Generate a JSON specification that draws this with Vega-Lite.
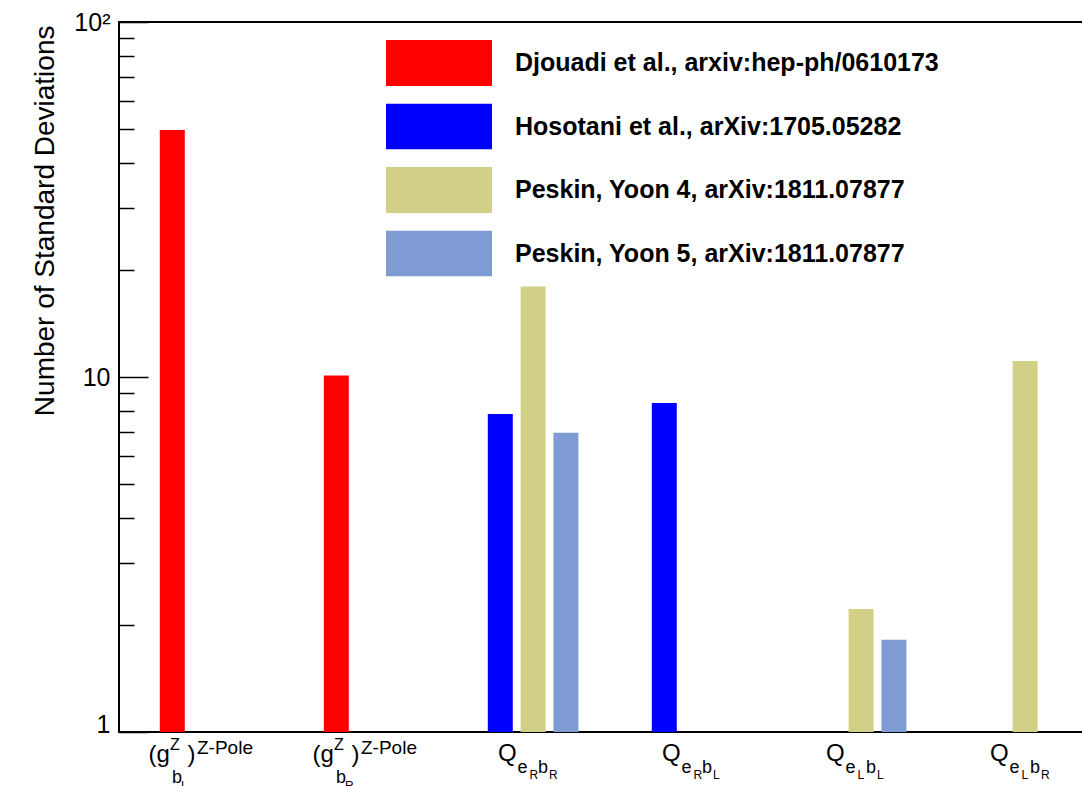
{
  "$schema": "https://vega.github.io/schema/vega-lite/v6.json",
  "width": 964,
  "height": 710,
  "autosize": {"type": "none"},
  "padding": {"left": 119, "top": 22, "right": 0, "bottom": 54},
  "background": "white",
  "config": {
    "view": {"stroke": "black", "strokeWidth": 2},
    "font": "Liberation Sans",
    "text": {"font": "Liberation Sans", "color": "black"}
  },
  "datasets": {
    "bars": [
      {"cat": "c1", "series": "Djouadi et al., arxiv:hep-ph/0610173", "value": 49.6},
      {"cat": "c2", "series": "Djouadi et al., arxiv:hep-ph/0610173", "value": 10.1},
      {"cat": "c3", "series": "Hosotani et al., arXiv:1705.05282", "value": 7.87},
      {"cat": "c3", "series": "Peskin, Yoon 4, arXiv:1811.07877", "value": 18.0},
      {"cat": "c3", "series": "Peskin, Yoon 5, arXiv:1811.07877", "value": 6.96},
      {"cat": "c4", "series": "Hosotani et al., arXiv:1705.05282", "value": 8.45},
      {"cat": "c5", "series": "Peskin, Yoon 4, arXiv:1811.07877", "value": 2.22},
      {"cat": "c5", "series": "Peskin, Yoon 5, arXiv:1811.07877", "value": 1.82},
      {"cat": "c6", "series": "Peskin, Yoon 4, arXiv:1811.07877", "value": 11.1}
    ],
    "labels": [
      {"cat": "c1", "kind": "g", "s1": "L", "s2": ""},
      {"cat": "c2", "kind": "g", "s1": "R", "s2": ""},
      {"cat": "c3", "kind": "Q", "s1": "R", "s2": "R"},
      {"cat": "c4", "kind": "Q", "s1": "R", "s2": "L"},
      {"cat": "c5", "kind": "Q", "s1": "L", "s2": "L"},
      {"cat": "c6", "kind": "Q", "s1": "L", "s2": "R"}
    ]
  },
  "layer": [
    {
      "data": {"name": "bars"},
      "transform": [{"filter": "datum.series == 'Djouadi et al., arxiv:hep-ph/0610173' || datum.series == 'Hosotani et al., arXiv:1705.05282'"}],
      "mark": {"type": "bar", "width": 25, "xOffset": -28.7},
      "encoding": {
        "x": {"field": "cat", "type": "nominal", "scale": {"domain": ["c1", "c2", "c3", "c4", "c5", "c6"], "range": [0, 984], "paddingInner": 0, "paddingOuter": 0}, "axis": null},
        "y": {
          "field": "value", "type": "quantitative",
          "scale": {"type": "log", "domain": [1, 100]},
          "axis": {
            "orient": "left",
            "values": [1, 10, 100],
            "domain": false, "grid": false,
            "tickSize": -29, "tickColor": "black", "tickWidth": 1.5,
            "labelPadding": 38, "labelFont": "Liberation Sans", "labelFontSize": 25, "labelColor": "black",
            "labelAlign": "right", "labelFlush": false, "labelOverlap": false,
            "labelExpr": "datum.value == 100 ? '10²' : (datum.value == 10 ? '10' : '1')",
            "labelBaseline": {"condition": {"test": "datum.value == 1", "value": "alphabetic"}, "value": "middle"},
            "title": "Number of Standard Deviations",
            "titleFont": "Liberation Sans", "titleFontSize": 28, "titleFontWeight": "normal", "titleColor": "black",
            "titleAngle": -90, "titleAlign": "right", "titleBaseline": "alphabetic",
            "titleX": -66, "titleY": 3
          }
        },
        "y2": {"datum": 1},
        "color": {
          "field": "series", "type": "nominal",
          "scale": {
            "domain": ["Djouadi et al., arxiv:hep-ph/0610173", "Hosotani et al., arXiv:1705.05282", "Peskin, Yoon 4, arXiv:1811.07877", "Peskin, Yoon 5, arXiv:1811.07877"],
            "range": ["#ff0000", "#0000ff", "#d2cf87", "#7e9bd3"]
          },
          "legend": {
            "orient": "none", "legendX": 267, "legendY": 18, "title": null,
            "direction": "vertical",
            "symbolType": "M-1,-0.434H1V0.434H-1Z", "symbolSize": 11236, "clipHeight": 46,
            "symbolStrokeWidth": 0, "symbolOpacity": 1,
            "rowPadding": 17.5, "labelOffset": 23, "padding": 0,
            "labelFont": "Liberation Sans", "labelFontSize": 25, "labelFontWeight": "bold", "labelColor": "black", "labelLimit": 1000
          }
        }
      }
    },
    {
      "data": {"name": "bars"},
      "transform": [{"filter": "datum.series == 'Peskin, Yoon 4, arXiv:1811.07877'"}],
      "mark": {"type": "bar", "width": 25, "xOffset": 4.1},
      "encoding": {
        "x": {"field": "cat", "type": "nominal", "scale": {"domain": ["c1", "c2", "c3", "c4", "c5", "c6"], "range": [0, 984], "paddingInner": 0, "paddingOuter": 0}, "axis": null},
        "y": {"field": "value", "type": "quantitative", "scale": {"type": "log", "domain": [1, 100]}, "axis": null},
        "y2": {"datum": 1},
        "color": {"field": "series", "type": "nominal"}
      }
    },
    {
      "data": {"name": "bars"},
      "transform": [{"filter": "datum.series == 'Peskin, Yoon 5, arXiv:1811.07877'"}],
      "mark": {"type": "bar", "width": 25, "xOffset": 36.9},
      "encoding": {
        "x": {"field": "cat", "type": "nominal", "scale": {"domain": ["c1", "c2", "c3", "c4", "c5", "c6"], "range": [0, 984], "paddingInner": 0, "paddingOuter": 0}, "axis": null},
        "y": {"field": "value", "type": "quantitative", "scale": {"type": "log", "domain": [1, 100]}, "axis": null},
        "y2": {"datum": 1},
        "color": {"field": "series", "type": "nominal"}
      }
    },
    {
      "data": {"name": "bars"},
      "mark": {"type": "tick", "opacity": 0},
      "encoding": {
        "y": {
          "field": "value", "type": "quantitative",
          "scale": {"type": "log", "domain": [1, 100]},
          "axis": {
            "orient": "left",
            "values": [2, 3, 4, 5, 6, 7, 8, 9, 20, 30, 40, 50, 60, 70, 80, 90],
            "labels": false, "domain": false, "grid": false, "title": null,
            "tickSize": -15, "tickColor": "black", "tickWidth": 1.5
          }
        }
      }
    },
    {
      "data": {"name": "labels"},
      "transform": [{"filter": "datum.kind == 'g'"}],
      "mark": {"type": "text", "text": "(g", "align": "left", "baseline": "alphabetic", "dx": -52.5, "dy": 30, "fontSize": 24},
      "encoding": {
        "x": {"field": "cat", "type": "nominal", "scale": {"domain": ["c1", "c2", "c3", "c4", "c5", "c6"], "range": [0, 984], "paddingInner": 0, "paddingOuter": 0}, "axis": null},
        "y": {"datum": 1, "type": "quantitative", "scale": {"type": "log", "domain": [1, 100]}, "axis": null}
      }
    },
    {
      "data": {"name": "labels"},
      "transform": [{"filter": "datum.kind == 'g'"}],
      "mark": {"type": "text", "text": "Z", "align": "left", "baseline": "alphabetic", "dx": -31, "dy": 18, "fontSize": 16},
      "encoding": {
        "x": {"field": "cat", "type": "nominal", "scale": {"domain": ["c1", "c2", "c3", "c4", "c5", "c6"], "range": [0, 984], "paddingInner": 0, "paddingOuter": 0}, "axis": null},
        "y": {"datum": 1, "type": "quantitative", "scale": {"type": "log", "domain": [1, 100]}, "axis": null}
      }
    },
    {
      "data": {"name": "labels"},
      "transform": [{"filter": "datum.kind == 'g'"}],
      "mark": {"type": "text", "text": "b", "align": "left", "baseline": "alphabetic", "dx": -29, "dy": 51, "fontSize": 18},
      "encoding": {
        "x": {"field": "cat", "type": "nominal", "scale": {"domain": ["c1", "c2", "c3", "c4", "c5", "c6"], "range": [0, 984], "paddingInner": 0, "paddingOuter": 0}, "axis": null},
        "y": {"datum": 1, "type": "quantitative", "scale": {"type": "log", "domain": [1, 100]}, "axis": null}
      }
    },
    {
      "data": {"name": "labels"},
      "transform": [{"filter": "datum.kind == 'g'"}],
      "mark": {"type": "text", "align": "left", "baseline": "alphabetic", "dx": -20, "dy": 58, "fontSize": 12},
      "encoding": {
        "x": {"field": "cat", "type": "nominal", "scale": {"domain": ["c1", "c2", "c3", "c4", "c5", "c6"], "range": [0, 984], "paddingInner": 0, "paddingOuter": 0}, "axis": null},
        "y": {"datum": 1, "type": "quantitative", "scale": {"type": "log", "domain": [1, 100]}, "axis": null},
        "text": {"field": "s1"}
      }
    },
    {
      "data": {"name": "labels"},
      "transform": [{"filter": "datum.kind == 'g'"}],
      "mark": {"type": "text", "text": ")", "align": "left", "baseline": "alphabetic", "dx": -13.5, "dy": 30, "fontSize": 24},
      "encoding": {
        "x": {"field": "cat", "type": "nominal", "scale": {"domain": ["c1", "c2", "c3", "c4", "c5", "c6"], "range": [0, 984], "paddingInner": 0, "paddingOuter": 0}, "axis": null},
        "y": {"datum": 1, "type": "quantitative", "scale": {"type": "log", "domain": [1, 100]}, "axis": null}
      }
    },
    {
      "data": {"name": "labels"},
      "transform": [{"filter": "datum.kind == 'g'"}],
      "mark": {"type": "text", "text": "Z-Pole", "align": "left", "baseline": "alphabetic", "dx": -4, "dy": 22, "fontSize": 19},
      "encoding": {
        "x": {"field": "cat", "type": "nominal", "scale": {"domain": ["c1", "c2", "c3", "c4", "c5", "c6"], "range": [0, 984], "paddingInner": 0, "paddingOuter": 0}, "axis": null},
        "y": {"datum": 1, "type": "quantitative", "scale": {"type": "log", "domain": [1, 100]}, "axis": null}
      }
    },
    {
      "data": {"name": "labels"},
      "transform": [{"filter": "datum.kind == 'Q'"}],
      "mark": {"type": "text", "text": "Q", "align": "left", "baseline": "alphabetic", "dx": -31, "dy": 29, "fontSize": 24},
      "encoding": {
        "x": {"field": "cat", "type": "nominal", "scale": {"domain": ["c1", "c2", "c3", "c4", "c5", "c6"], "range": [0, 984], "paddingInner": 0, "paddingOuter": 0}, "axis": null},
        "y": {"datum": 1, "type": "quantitative", "scale": {"type": "log", "domain": [1, 100]}, "axis": null}
      }
    },
    {
      "data": {"name": "labels"},
      "transform": [{"filter": "datum.kind == 'Q'"}],
      "mark": {"type": "text", "text": "e", "align": "left", "baseline": "alphabetic", "dx": -11.5, "dy": 41, "fontSize": 18},
      "encoding": {
        "x": {"field": "cat", "type": "nominal", "scale": {"domain": ["c1", "c2", "c3", "c4", "c5", "c6"], "range": [0, 984], "paddingInner": 0, "paddingOuter": 0}, "axis": null},
        "y": {"datum": 1, "type": "quantitative", "scale": {"type": "log", "domain": [1, 100]}, "axis": null}
      }
    },
    {
      "data": {"name": "labels"},
      "transform": [{"filter": "datum.kind == 'Q'"}],
      "mark": {"type": "text", "align": "left", "baseline": "alphabetic", "dx": 0.5, "dy": 47, "fontSize": 12},
      "encoding": {
        "x": {"field": "cat", "type": "nominal", "scale": {"domain": ["c1", "c2", "c3", "c4", "c5", "c6"], "range": [0, 984], "paddingInner": 0, "paddingOuter": 0}, "axis": null},
        "y": {"datum": 1, "type": "quantitative", "scale": {"type": "log", "domain": [1, 100]}, "axis": null},
        "text": {"field": "s1"}
      }
    },
    {
      "data": {"name": "labels"},
      "transform": [{"filter": "datum.kind == 'Q'"}],
      "mark": {"type": "text", "text": "b", "align": "left", "baseline": "alphabetic", "dx": 9, "dy": 41, "fontSize": 18},
      "encoding": {
        "x": {"field": "cat", "type": "nominal", "scale": {"domain": ["c1", "c2", "c3", "c4", "c5", "c6"], "range": [0, 984], "paddingInner": 0, "paddingOuter": 0}, "axis": null},
        "y": {"datum": 1, "type": "quantitative", "scale": {"type": "log", "domain": [1, 100]}, "axis": null}
      }
    },
    {
      "data": {"name": "labels"},
      "transform": [{"filter": "datum.kind == 'Q'"}],
      "mark": {"type": "text", "align": "left", "baseline": "alphabetic", "dx": 20, "dy": 47, "fontSize": 12},
      "encoding": {
        "x": {"field": "cat", "type": "nominal", "scale": {"domain": ["c1", "c2", "c3", "c4", "c5", "c6"], "range": [0, 984], "paddingInner": 0, "paddingOuter": 0}, "axis": null},
        "y": {"datum": 1, "type": "quantitative", "scale": {"type": "log", "domain": [1, 100]}, "axis": null},
        "text": {"field": "s2"}
      }
    }
  ],
  "resolve": {"scale": {"y": "independent"}}
}
